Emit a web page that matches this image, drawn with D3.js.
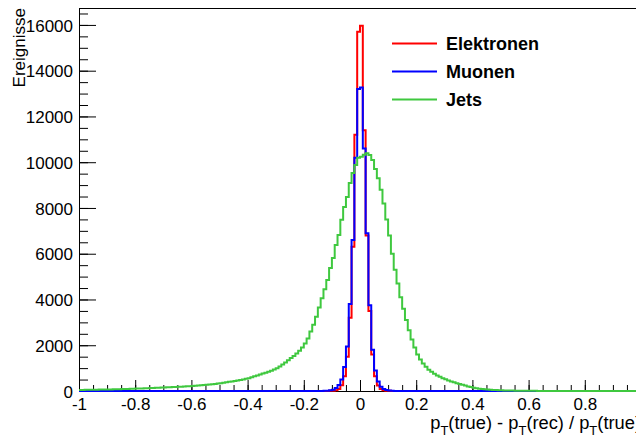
<!DOCTYPE html>
<html>
<head>
<meta charset="utf-8">
<script src="https://cdn.jsdelivr.net/npm/d3@7"></script>
<style>
  body { margin: 0; background: white; }
  svg { display: block; font-family: "Liberation Sans", Arial, Helvetica, sans-serif; }
</style>
</head>
<body>
<svg id="chart" width="636" height="441"></svg>
<script>
// histogram binning: 200 bins from -1 to 1
const bin_low = -1.0;
const bin_high = 1.0;
const bin_count = 200;

const series_names = ['Elektronen', 'Muonen', 'Jets'];
const series_colors = ['#ff0000', '#0000ff', '#3fc83f'];

const elektronen_counts = [
    0, 0, 0, 0, 0, 0, 0, 0, 0, 0,  0, 0, 0, 0, 0, 0, 0, 0, 0, 0,
    0, 0, 0, 0, 0, 0, 0, 0, 0, 0,  0, 0, 0, 0, 0, 0, 0, 0, 0, 0,
    0, 0, 0, 0, 0, 0, 0, 0, 0, 0,  0, 0, 0, 0, 0, 0, 0, 0, 0, 0,
    0, 0, 0, 0, 0, 0, 0, 0, 0, 0,  0, 0, 0, 0, 0, 0, 0, 0, 0, 0,
    0, 0, 0, 0, 0, 0, 0, 0, 3, 6,
    15, 35, 90, 250, 650, 1500, 3200, 6300, 11200, 15700,
    15960, 11400, 6800, 3500, 1600, 650, 240, 90, 35, 14,
    6, 3, 1, 0, 0, 0, 0, 0, 0, 0,
    0, 0, 0, 0, 0, 0, 0, 0, 0, 0,  0, 0, 0, 0, 0, 0, 0, 0, 0, 0,
    0, 0, 0, 0, 0, 0, 0, 0, 0, 0,  0, 0, 0, 0, 0, 0, 0, 0, 0, 0,
    0, 0, 0, 0, 0, 0, 0, 0, 0, 0,  0, 0, 0, 0, 0, 0, 0, 0, 0, 0
];

const muonen_counts = [
    0, 0, 0, 0, 0, 0, 0, 0, 0, 0,  0, 0, 0, 0, 0, 0, 0, 0, 0, 0,
    0, 0, 0, 0, 0, 0, 0, 0, 0, 0,  0, 0, 0, 0, 0, 0, 0, 0, 0, 0,
    0, 0, 0, 0, 0, 0, 0, 0, 0, 0,  0, 0, 0, 0, 0, 0, 0, 0, 0, 0,
    0, 0, 0, 0, 0, 0, 0, 0, 0, 0,  0, 0, 0, 0, 0, 0, 0, 0, 0, 0,
    0, 0, 0, 0, 0, 2, 4, 8, 15, 30,
    60, 130, 260, 500, 1050, 1950, 3800, 6600, 10200, 13200,
    13270, 10600, 6900, 3750, 1800, 900, 420, 190, 90, 45,
    20, 10, 5, 3, 1, 0, 0, 0, 0, 0,
    0, 0, 0, 0, 0, 0, 0, 0, 0, 0,  0, 0, 0, 0, 0, 0, 0, 0, 0, 0,
    0, 0, 0, 0, 0, 0, 0, 0, 0, 0,  0, 0, 0, 0, 0, 0, 0, 0, 0, 0,
    0, 0, 0, 0, 0, 0, 0, 0, 0, 0,  0, 0, 0, 0, 0, 0, 0, 0, 0, 0
];

const jets_counts = [
    45, 47, 51, 50, 55, 56, 57, 61, 62, 66,
    68, 71, 74, 77, 80, 84, 88, 92, 96, 100,
    104, 109, 114, 119, 124, 129, 134, 139, 144, 149,
    155, 160, 166, 172, 178, 185, 191, 198, 205, 212,
    220, 230, 240, 250, 262, 273, 285, 297, 310, 325,
    340, 360, 380, 400, 420, 440, 460, 480, 505, 530,
    560, 600, 640, 680, 720, 760, 800, 840, 890, 940,
    990, 1070, 1160, 1250, 1340, 1440, 1530, 1640, 1760, 1900,
    2080, 2300, 2600, 2900, 3250, 3650, 4050, 4450, 4850, 5380,
    5810, 6380, 6820, 7480, 8040, 8480, 9090, 9530, 9880, 10190,
    10240, 10330, 10390, 10320, 10100, 9700, 9300, 8800, 8200, 7500,
    6800, 6000, 5300, 4700, 4100, 3600, 3100, 2650, 2250, 1900,
    1600, 1380, 1200, 1060, 930, 840, 750, 680, 620, 560,
    510, 460, 420, 380, 340, 305, 270, 235, 200, 170,
    140, 120, 100, 88, 75, 65, 56, 48, 42, 36,
    31, 27, 23, 20, 17, 14, 12, 10, 9, 8,
    7, 6, 6, 5, 5, 4, 4, 3, 3, 3,
    3, 2, 2, 2, 2, 2, 1, 1, 1, 1,
    1, 1, 1, 1, 1, 1, 1, 1, 1, 1,
    1, 0, 1, 0, 1, 0, 0, 1, 0, 0
];

const x_tick_values = [-1, -0.8, -0.6, -0.4, -0.2, 0, 0.2, 0.4, 0.6, 0.8, 1];
const x_tick_labels = ['-1', '-0.8', '-0.6', '-0.4', '-0.2', '0', '0.2', '0.4', '0.6', '0.8', '1'];
const y_tick_values = [0, 2000, 4000, 6000, 8000, 10000, 12000, 14000, 16000];
const y_tick_labels = ['0', '2000', '4000', '6000', '8000', '10000', '12000', '14000', '16000'];
const y_max = 16740;

function draw_histogram_chart(d3, svg) {

    let frame_left = 79;
    let frame_right = 641;
    let frame_top = 8;
    let frame_bottom = 391;
    let label_size = 17;
    let bin_width = (bin_high - bin_low) / bin_count;

    var x_range = d3.scaleLinear()
        .domain([bin_low, bin_high])
        .range([frame_left, frame_right]);

    var y_range = d3.scaleLinear()
        .domain([0, y_max])
        .range([frame_bottom, frame_top]);

    // minor ticks first, no labels
    svg.append('g')
        .attr('transform', 'translate(0,' + frame_bottom + ')')
        .call(d3.axisBottom(x_range)
            .tickValues(d3.range(bin_low, bin_high + 0.001, 0.05))
            .tickSize(-6).tickSizeOuter(0).tickFormat(''))
        .select('.domain').remove();

    svg.append('g')
        .attr('transform', 'translate(' + frame_left + ',0)')
        .call(d3.axisLeft(y_range)
            .tickValues(d3.range(0, y_max, 500))
            .tickSize(-9).tickSizeOuter(0).tickFormat(''))
        .select('.domain').remove();

    var x_axis = svg.append('g')
        .attr('transform', 'translate(0,' + frame_bottom + ')')
        .call(d3.axisBottom(x_range)
            .tickValues(x_tick_values)
            .tickSize(-11).tickSizeOuter(0).tickPadding(7)
            .tickFormat(function (d, i) { return x_tick_labels[i]; }));

    var y_axis = svg.append('g')
        .attr('transform', 'translate(' + frame_left + ',0)')
        .call(d3.axisLeft(y_range)
            .tickValues(y_tick_values)
            .tickSize(-17).tickSizeOuter(0).tickPadding(6)
            .tickFormat(function (d, i) { return y_tick_labels[i]; }));

    [x_axis, y_axis].forEach(axis => {
        axis.attr('font-family', null).attr('font-size', null);
        axis.selectAll('text')
            .attr('font-size', label_size)
            .attr('fill', '#000');
    });
    y_axis.selectAll('text').attr('dy', '0.36em');

    // top frame line
    svg.append('line')
        .attr('x1', frame_left).attr('x2', frame_right)
        .attr('y1', frame_top + 0.5).attr('y2', frame_top + 0.5)
        .attr('stroke', '#000');

    svg.append('clipPath').attr('id', 'frame_clip')
        .append('rect')
        .attr('x', frame_left).attr('y', frame_top)
        .attr('width', frame_right - frame_left)
        .attr('height', frame_bottom - frame_top + 2);

    var line = d3.line()
        .x(function (d) { return x_range(d[0]); })
        .y(function (d) { return y_range(d[1]); });

    function histogram_points(counts) {
        let points = [];
        counts.forEach((c, i) => {
            points.push([bin_low + i * bin_width, c]);
            points.push([bin_low + (i + 1) * bin_width, c]);
        });
        return points;
    }

    let all_counts = [elektronen_counts, muonen_counts, jets_counts];

    all_counts.forEach((counts, i) => {
        svg.append('path')
            .attr('clip-path', 'url(#frame_clip)')
            .attr('d', line(histogram_points(counts)))
            .attr('fill', 'none')
            .attr('stroke', series_colors[i])
            .attr('stroke-width', 2);
    });

    // legend
    series_names.forEach((name, i) => {
        let row_y = 43.5 + i * 28;
        svg.append('line')
            .attr('x1', 392).attr('x2', 437)
            .attr('y1', row_y).attr('y2', row_y)
            .attr('stroke', series_colors[i])
            .attr('stroke-width', 2);
        svg.append('text')
            .attr('x', 446)
            .attr('y', row_y + 6.5)
            .attr('font-size', 18)
            .attr('font-weight', 'bold')
            .attr('fill', '#000')
            .text(name);
    });

    // axis titles
    svg.append('text')
        .attr('transform', 'translate(25,' + frame_top + ') rotate(-90)')
        .attr('text-anchor', 'end')
        .attr('font-size', label_size)
        .attr('fill', '#000')
        .text('Ereignisse');

    var x_title = svg.append('text')
        .attr('x', frame_right)
        .attr('y', 429)
        .attr('text-anchor', 'end')
        .attr('font-size', 18.3)
        .attr('fill', '#000');

    ['(true) - p', '(rec) / p', '(true)'].forEach((part, i) => {
        x_title.append('tspan').text(i == 0 ? 'p' : '');
        x_title.append('tspan')
            .attr('font-size', 13)
            .attr('dy', 6)
            .text('T');
        x_title.append('tspan')
            .attr('dy', -6)
            .text(part);
    });
}

draw_histogram_chart(d3, d3.select('#chart'));
</script>
</body>
</html>
